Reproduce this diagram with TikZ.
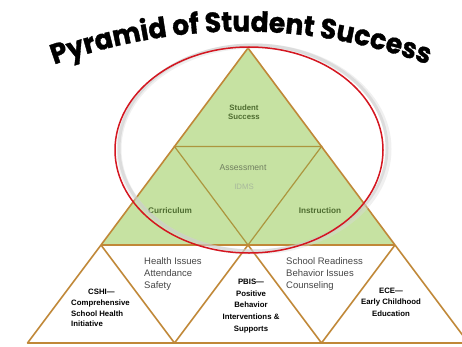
\documentclass[tikz,border=0pt]{standalone}
\usepackage{fontspec}
\setmainfont{Liberation Sans}
\newfontfamily\titlefont{Poppins}[BoldFeatures={FakeBold=1.2, FakeStretch=0.95}]
\usetikzlibrary{decorations.text}
\definecolor{pgreen}{RGB}{198,226,162}
\definecolor{pbrown}{RGB}{192,136,56}
\definecolor{polive}{RGB}{172,150,62}
\definecolor{dgreen}{RGB}{78,108,48}
\definecolor{agreen}{RGB}{112,126,96}
\definecolor{lgreen}{RGB}{168,184,156}
\definecolor{pred}{RGB}{212,22,32}
\definecolor{tgrey}{RGB}{70,70,70}
\tikzset{
  edge/.style={draw=pbrown, line width=1.6pt, line join=round},
  inner/.style={draw=polive, line width=1.2pt},
  gtext/.style={font=\bfseries\fontsize{7.8}{9.5}\selectfont, text=dgreen, align=center, inner sep=0pt},
  listtext/.style={font=\fontsize{9.5}{12}\selectfont, text=tgrey, align=left, anchor=west, inner sep=0pt},
  boldtext/.style={font=\bfseries\fontsize{7.8}{10.8}\selectfont, text=black, inner sep=0pt},
}
\begin{document}
\begin{tikzpicture}[x=1pt,y=1pt]
\useasboundingbox (0,0) rectangle (462,346);
\clip (0,0) rectangle (462,346);
% key points
\coordinate (A) at (248,298);
\coordinate (L) at (101,101);
\coordinate (R) at (395,101);
\coordinate (M) at (248,101);
\coordinate (ML) at (174.5,199.5);
\coordinate (MR) at (321.5,199.5);
\coordinate (B0) at (27.5,3);
\coordinate (B1) at (174.5,3);
\coordinate (B2) at (321.5,3);
\coordinate (B3) at (468.5,3);
% green triangle
\fill[pgreen] (A) -- (L) -- (R) -- cycle;
\draw[inner] (ML) -- (MR) -- (M) -- cycle;
\draw[edge] (A) -- (L) -- (R) -- cycle;
% bottom row
\draw[edge] (L) -- (B0) -- (B3) -- (R);
\draw[edge] (L) -- (B1) -- (M) -- (B2) -- (R);
% labels in the green triangle
\node[gtext] (ss) at (244,234) {Student\\Success};
\node[font=\fontsize{8.6}{10}\selectfont, text=agreen, inner sep=0pt] (as) at (243,178) {Assessment};
\node[font=\fontsize{7.8}{10}\selectfont, text=lgreen, inner sep=0pt] (id) at (244,159) {IDMS};
\node[gtext, font=\bfseries\fontsize{8.2}{9}\selectfont] (cu) at (170,135) {Curriculum};
\node[gtext, font=\bfseries\fontsize{8.2}{9}\selectfont] (in) at (320,135) {Instruction};
% bottom labels
\node[listtext] (hi) at (144,72) {Health Issues\\Attendance\\Safety};
\node[listtext] (sr) at (286,72) {School Readiness\\Behavior Issues\\Counseling};
\node[boldtext, align=left, anchor=west] (cs) at (71,38) {\hspace*{17pt}CSHI---\\Comprehensive\\School Health\\Initiative};
\node[boldtext, align=center, font=\bfseries\fontsize{7.8}{11.6}\selectfont] (pb) at (251,40) {PBIS---\\Positive\\Behavior\\Interventions \&\\Supports};
\node[boldtext, align=center, font=\bfseries\fontsize{7.8}{11.5}\selectfont] (ec) at (391,44) {ECE---\\Early Childhood\\Education};
% ellipse with shadow
\draw[black!25, line width=3pt, opacity=0.5] (253,198) ellipse [x radius=134, y radius=103];
\draw[black!15, line width=5pt, opacity=0.4] (254,197) ellipse [x radius=135, y radius=103];
\draw[pred, line width=1.5pt] (249,196) ellipse [x radius=134, y radius=103];
% title
\path[decorate, decoration={text along path, text align=center,
  text={|\titlefont\bfseries\fontsize{28}{28}\selectfont|Pyramid of Student Success}}]
  (50,280) .. controls (178,326) and (304,326) .. (432,280);
\end{tikzpicture}
\end{document}
